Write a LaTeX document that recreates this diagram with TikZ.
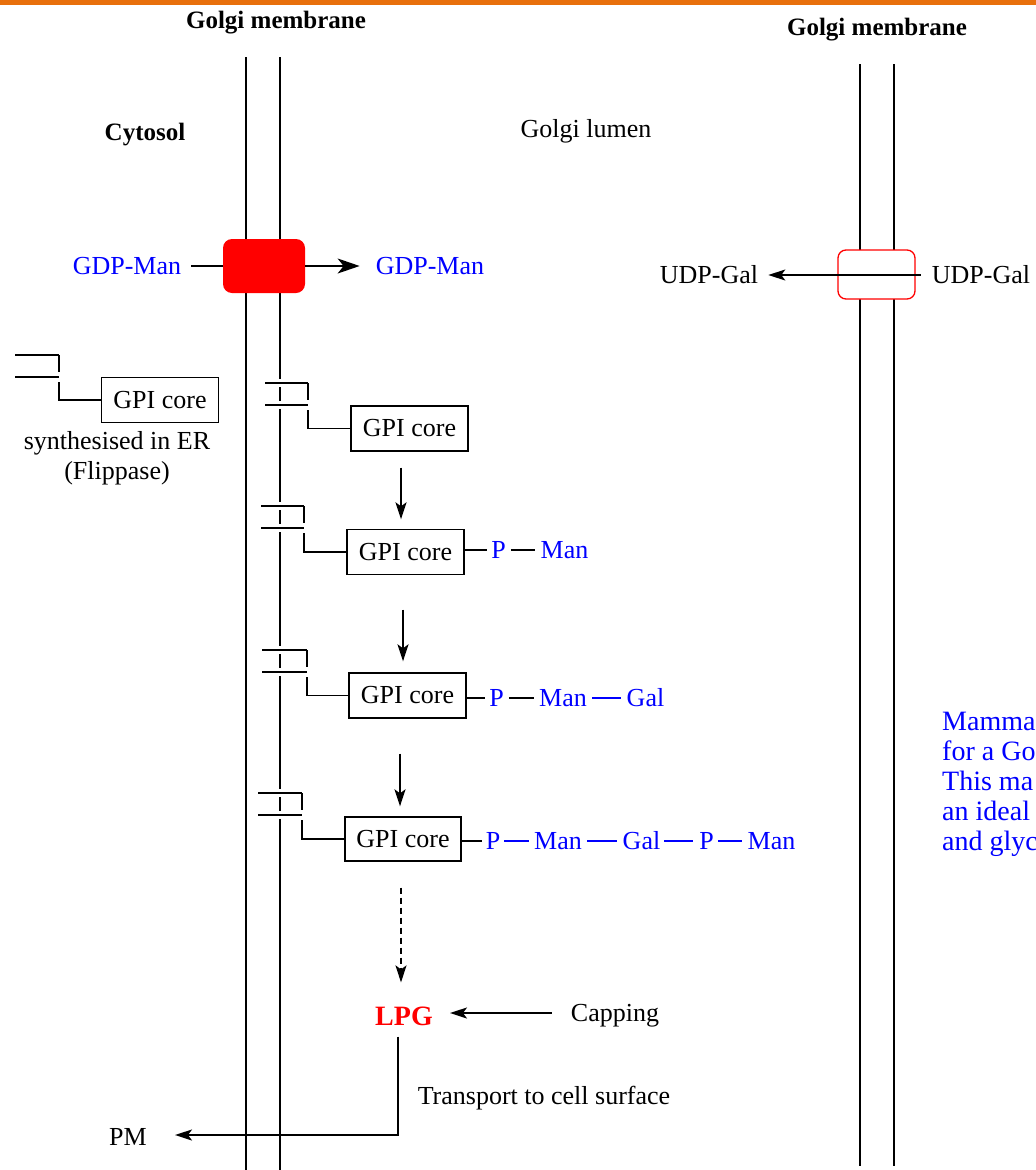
\documentclass[tikz,border=0pt]{standalone}
\usepackage{fontspec}
\setmainfont{Liberation Serif}
\usetikzlibrary{arrows.meta}
\definecolor{barorange}{HTML}{E8700C}
\newcommand\lipidanchor[4]{%
  \draw[link, preaction={draw=white, line width=8pt}] (#1,#3) -- (#2,#3);
  \draw[link, preaction={draw=white, line width=8pt}] (#1,#3+22) -- (#2,#3+22);
  \draw[link] (#2,#3) -- (#2,#3+17);
  \draw[link] (#2,#3+27) |- (#4.west);
}
\begin{document}
\begin{tikzpicture}[x=1pt,y=-1pt,
  memb/.style={line width=1.2pt},
  link/.style={line width=1.4pt},
  gpibox/.style={draw, line width=1.4pt, minimum width=117pt, minimum height=45pt, inner sep=0pt, font=\fontsize{26}{30}\selectfont},
  lbl/.style={inner sep=0pt, font=\fontsize{26}{30}\selectfont},
  bl/.style={lbl, text=blue},
  hd/.style={inner sep=0pt, font=\fontsize{25}{30}\selectfont\bfseries},
  arr/.style={line width=1.8pt, -{Stealth[length=17pt,width=11pt,inset=4pt]}},
  bigarr/.style={line width=1.8pt, -{Stealth[length=22pt,width=15pt,inset=6pt]}},
  blink/.style={line width=1.4pt, blue},
  klink/.style={line width=1.4pt, black}
]
\useasboundingbox (0,0) rectangle (1036,1170);
\fill[barorange] (0,0) rectangle (1036,5);

% membranes
\draw[memb] (246,57) -- (246,1170);
\draw[memb] (280,57) -- (280,1170);
\draw[memb] (860,64) -- (860,1166);
\draw[memb] (894,64) -- (894,1166);

% headings
\node[hd] (gmL) at (276,23) {Golgi membrane};
\node[hd] (gmR) at (877,30) {Golgi membrane};
\node[hd] (cyto) at (145,135) {Cytosol};
\node[lbl] (lumen) at (586,131) {Golgi lumen};

% GDP-Man transporter
\node[fill=red, rounded corners=9pt, minimum width=82pt, minimum height=54pt, inner sep=0pt] (gmt) at (264,266) {};
\node[bl] (gdpL) at (127,266) {GDP-Man};
\node[bl] (gdpR) at (430,266) {GDP-Man};
\draw[line width=1.8pt] ([xshift=10pt]gdpL.east) -- (gmt.west);
\draw[bigarr] (gmt.east) -- ([xshift=-16pt]gdpR.west);

% UDP-Gal transporter
\node[draw=red, fill=white, line width=1.3pt, rounded corners=8pt, minimum width=77pt, minimum height=49pt, inner sep=0pt] (ugt) at (876.5,274.5) {};
\node[lbl] (udpL) at (709,275) {UDP-Gal};
\node[lbl] (udpR) at (981,275) {UDP-Gal};
\draw[arr] ([xshift=-11pt]udpR.west) -- ([xshift=10pt]udpL.east);

% GPI boxes
\node[gpibox] (g0) at (160,400) {GPI core};
\node[lbl, align=center] (er) at (117,458) {synthesised in ER\\(Flippase)};
\node[gpibox] (g1) at (409.5,428.5) {GPI core};
\node[gpibox] (g2) at (405.5,552) {GPI core};
\node[gpibox] (g3) at (407.5,695.5) {GPI core};
\node[gpibox, minimum width=116pt, minimum height=44pt] (g4) at (403,839) {GPI core};

% lipid anchors
\lipidanchor{15}{59}{355}{g0}
\lipidanchor{265}{308}{383}{g1}
\lipidanchor{261}{304}{506}{g2}
\lipidanchor{262}{307}{650}{g3}
\lipidanchor{258}{302}{793}{g4}

% arrows between steps
\draw[arr] ([xshift=-8.5pt,yshift=-16pt]g1.south) -- ([xshift=-8.5pt,yshift=9.5pt]g1.south |- g2.north);
\draw[arr] ([xshift=-2.5pt,yshift=-34.5pt]g2.south) -- ([xshift=-2.5pt,yshift=11pt]g2.south |- g3.north);
\draw[arr] ([xshift=-7.5pt,yshift=-35pt]g3.south) -- ([xshift=-7.5pt,yshift=10pt]g3.south |- g4.north);

% chain row 2
\node[bl] (p2) at (498.5,550) {P};
\node[bl] (m2) at (564.5,550) {Man};
\draw[klink] (g2.east |- p2.west) -- ([xshift=-4pt]p2.west);
\draw[klink] ([xshift=5pt]p2.east) -- ([xshift=-5pt]m2.west);

% chain row 3
\node[bl] (p3) at (496.5,698) {P};
\node[bl] (m3) at (563,698) {Man};
\node[bl] (ga3) at (645.5,698) {Gal};
\draw[klink] (g3.east |- p3.west) -- ([xshift=-4pt]p3.west);
\draw[klink] ([xshift=5pt]p3.east) -- ([xshift=-5pt]m3.west);
\draw[blink] ([xshift=5pt]m3.east) -- ([xshift=-6pt]ga3.west);

% chain row 4
\node[bl] (p4) at (493,841) {P};
\node[bl] (m4) at (558,841) {Man};
\node[bl] (ga4) at (641.5,841) {Gal};
\node[bl] (p4b) at (706.5,841) {P};
\node[bl] (m4b) at (771.5,841) {Man};
\draw[klink] (g4.east |- p4.west) -- ([xshift=-4pt]p4.west);
\draw[blink] ([xshift=4pt]p4.east) -- ([xshift=-5pt]m4.west);
\draw[blink] ([xshift=5pt]m4.east) -- ([xshift=-6pt]ga4.west);
\draw[blink] ([xshift=4pt]ga4.east) -- ([xshift=-6pt]p4b.west);
\draw[blink] ([xshift=4pt]p4b.east) -- ([xshift=-5pt]m4b.west);

% LPG
\node[inner sep=0pt, font=\fontsize{28}{30}\selectfont\bfseries, text=red] (lpg) at (404,1016) {LPG};
\draw[arr, dash pattern=on 6pt off 4pt] ([xshift=-2pt,yshift=-26pt]g4.south) -- ([xshift=-2pt,yshift=24pt]g4.south |- lpg.north);
\node[lbl] (cap) at (615,1016) {Capping};
\draw[arr] ([xshift=-19pt,yshift=3pt]cap.west) -- ([xshift=17pt,yshift=3pt]lpg.east |- cap.west);
\node[lbl] (pm) at (128,1137) {PM};
\node[lbl] (trans) at (544,1098) {Transport to cell surface};
\draw[arr] ([xshift=-6pt,yshift=-11pt]lpg.south) |- ([xshift=28pt,yshift=2pt]pm.east);

% blue note
\node[inner sep=0pt, anchor=north west, align=left, text=blue, font=\fontsize{28}{30}\selectfont] (note) at (942,712) {Mamma\\for a Go\\This ma\\an ideal\\and glyc};
\end{tikzpicture}
\end{document}
